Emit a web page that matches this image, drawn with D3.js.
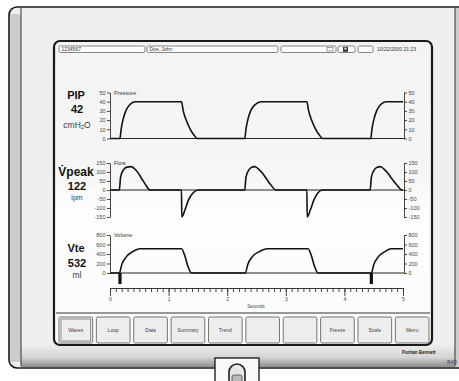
<!DOCTYPE html>
<meta charset="utf-8">
<script src="https://d3js.org/d3.v7.min.js"></script>

<style>
  body { margin: 0; background: #fff; }
  svg { display: block; font-family: "Liberation Sans", Arial, sans-serif; }
  .tick text { font-size: 5.5px; fill: #444; }
  .tick line, .domain { stroke: #333; stroke-width: 0.9px; }
  .trace { fill: none; stroke: #111; stroke-width: 1.6px; stroke-linejoin: round; }
  .base { stroke: #222; stroke-width: 1px; }
  .param { font-weight: bold; font-size: 11px; fill: #111; text-anchor: middle; }
  .unit { font-size: 8.5px; text-anchor: middle; }
</style>

<body>
  <div id="vent"></div>

  <script>
    // ---- data ----
    const headerText = ["1234567", "Doe, John", "", "", "", "10/22/2000 21:23"];
    const buttonLabels = ["Waves", "Loop", "Data", "Summary", "Trend", "", "", "Freeze", "Scale", "Menu"];

    const paramNames = ["PIP", "V\u0307peak", "Vte"];
    const paramValues = ["42", "122", "532"];
    const paramUnits = ["cmH\u2082O", "lpm", "ml"];
    const panelTitles = ["Pressure", "Flow", "Volume"];

    const pressureTicks = [0, 10, 20, 30, 40, 50];
    const flowTicks = [-150, -100, -50, 0, 50, 100, 150];
    const volumeTicks = [0, 200, 400, 600, 800];
    const timeTicks = [0, 1, 2, 3, 4, 5];

    // [seconds, cmH2O]
    const pressure = [
      [0, 0], [0.17, 0], [0.19, 10], [0.22, 20], [0.27, 30], [0.34, 37], [0.43, 40],
      [1.22, 40], [1.25, 30], [1.30, 20], [1.37, 10], [1.43, 4], [1.49, 0],
      [2.30, 0], [2.32, 10], [2.35, 20], [2.40, 30], [2.48, 37], [2.58, 40],
      [3.36, 40], [3.39, 30], [3.44, 20], [3.51, 10], [3.57, 4], [3.63, 0],
      [4.45, 0], [4.47, 10], [4.50, 20], [4.55, 30], [4.62, 37], [4.71, 40], [5, 40]
    ];
    // [seconds, lpm]
    const flow = [
      [0, 0], [0.16, 0], [0.18, 70], [0.23, 112], [0.29, 127], [0.36, 130], [0.42, 118],
      [0.48, 95], [0.54, 64], [0.61, 28], [0.68, 0],
      [1.22, 0], [1.225, -150], [1.28, -110], [1.34, -55], [1.42, -15], [1.51, 0],
      [2.30, 0], [2.32, 70], [2.37, 112], [2.42, 127], [2.47, 130], [2.53, 118],
      [2.60, 94], [2.67, 62], [2.75, 26], [2.83, 0],
      [3.36, 0], [3.365, -150], [3.42, -110], [3.48, -55], [3.55, -15], [3.63, 0],
      [4.44, 0], [4.46, 70], [4.51, 112], [4.56, 127], [4.61, 130], [4.67, 118],
      [4.74, 94], [4.81, 62], [4.90, 26], [4.98, 0], [5, 0]
    ];
    // [seconds, ml]
    const volume = [
      [0, 0], [0.16, 0], [0.20, 175], [0.28, 345], [0.39, 450], [0.51, 510],
      [1.22, 510], [1.28, 350], [1.33, 140], [1.39, 0],
      [2.31, 0], [2.35, 175], [2.43, 345], [2.55, 450], [2.68, 510],
      [3.38, 510], [3.44, 350], [3.49, 140], [3.55, 0],
      [4.46, 0], [4.50, 175], [4.58, 345], [4.69, 450], [4.80, 510], [5, 510]
    ];
    const breathMarks = [0.17, 4.46];

    // ---- layout ----
    const width = 459, height = 381;
    const svg = d3.select("#vent").append("svg")
      .attr("width", width)
      .attr("height", height);

    const defs = svg.append("defs");
    const grad = defs.append("linearGradient").attr("id", "chin")
      .attr("x1", 0).attr("y1", 0).attr("x2", 0).attr("y2", 1);
    grad.append("stop").attr("offset", "0%").attr("stop-color", "#ececec");
    grad.append("stop").attr("offset", "55%").attr("stop-color", "#d6d6d6");
    grad.append("stop").attr("offset", "100%").attr("stop-color", "#8e8e8e");

    const glass = defs.append("linearGradient").attr("id", "glass")
      .attr("x1", 0).attr("y1", 0).attr("x2", 0).attr("y2", 1);
    glass.append("stop").attr("offset", "0%").attr("stop-color", "#f3f3f3");
    glass.append("stop").attr("offset", "45%").attr("stop-color", "#f6f6f6");
    glass.append("stop").attr("offset", "55%").attr("stop-color", "#fdfdfd");
    glass.append("stop").attr("offset", "100%").attr("stop-color", "#fcfcfc");

    // device body
    svg.append("rect").attr("x", 9).attr("y", 7).attr("width", 470).attr("height", 361)
      .attr("rx", 8).attr("fill", "#efefef").attr("stroke", "#1a1a1a").attr("stroke-width", 1.6);
    svg.append("rect").attr("x", 10).attr("y", 14).attr("width", 11).attr("height", 348)
      .attr("fill", "#cccccc");
    svg.append("rect").attr("x", 455).attr("y", 8).attr("width", 6).attr("height", 359)
      .attr("fill", "#cccccc");
    svg.append("rect").attr("x", 21).attr("y", 345).attr("width", 434).attr("height", 22)
      .attr("fill", "url(#chin)");
    svg.append("line").attr("x1", 21).attr("x2", 21).attr("y1", 8).attr("y2", 366)
      .attr("stroke", "#333").attr("stroke-width", 1);
    svg.append("line").attr("x1", 455).attr("x2", 455).attr("y1", 8).attr("y2", 366)
      .attr("stroke", "#333").attr("stroke-width", 1);

    // knob under the screen
    const knob = svg.append("g");
    knob.append("rect").attr("x", 215).attr("y", 358).attr("width", 44).attr("height", 26)
      .attr("fill", "#fafafa").attr("stroke", "#222").attr("stroke-width", 1.4);
    knob.append("path").attr("d", "M229,384 L229,372 A8,8 0 0 1 245,372 L245,384")
      .attr("fill", "#e6e6e6").attr("stroke", "#222").attr("stroke-width", 1.6);
    knob.append("rect").attr("x", 232).attr("y", 375).attr("width", 10).attr("height", 8)
      .attr("rx", 2).attr("fill", "#bbb").attr("stroke", "#444").attr("stroke-width", 0.8);

    svg.append("text").attr("x", 402).attr("y", 354)
      .style("font-size", "4.5px").style("font-weight", "bold").attr("fill", "#222")
      .text("Puritan Bennett");
    svg.append("text").attr("x", 447).attr("y", 364)
      .style("font-size", "6px").attr("fill", "#444").text("840");

    // screen
    svg.append("rect").attr("x", 54).attr("y", 41).attr("width", 378).attr("height", 304)
      .attr("rx", 6).attr("fill", "url(#glass)").attr("stroke", "#1a1a1a").attr("stroke-width", 2.2);

    // header fields
    const headerEdges = [[59, 145], [147, 278], [281, 336], [338, 355], [358, 373], [374, 428]];
    const header = svg.append("g").selectAll("g")
      .data(headerText)
      .join("g");
    header.filter((d, i) => i < 5).append("rect")
      .attr("x", (d, i) => headerEdges[i][0])
      .attr("y", 46)
      .attr("width", (d, i) => headerEdges[i][1] - headerEdges[i][0])
      .attr("height", 6.5)
      .attr("rx", 1.5)
      .attr("fill", "#fcfcfc")
      .attr("stroke", "#555")
      .attr("stroke-width", 0.7);
    header.append("text")
      .attr("x", (d, i) => headerEdges[i][0] + (i === 5 ? 3 : 2.5))
      .attr("y", 51.4)
      .style("font-size", "5px")
      .attr("fill", "#333")
      .text(d => d);
    // printer + disk icons
    svg.append("rect").attr("x", 327).attr("y", 47.5).attr("width", 6).attr("height", 3.5)
      .attr("fill", "none").attr("stroke", "#666").attr("stroke-width", 0.6);
    svg.append("rect").attr("x", 343).attr("y", 46.8).attr("width", 5).attr("height", 5)
      .attr("fill", "#333");
    svg.append("rect").attr("x", 344.3).attr("y", 47.6).attr("width", 2.4).attr("height", 2)
      .attr("fill", "#ddd");

    // ---- scales ----
    const x = d3.scaleLinear().domain([0, 5]).range([110, 403]);
    const yP = d3.scaleLinear().domain([0, 50]).range([138.5, 92.5]);
    const yF = d3.scaleLinear().domain([-150, 150]).range([217, 163]);
    const yV = d3.scaleLinear().domain([0, 800]).range([273, 235]);

    const panels = [
      { y: yP, ticks: pressureTicks, data: pressure, title: panelTitles[0] },
      { y: yF, ticks: flowTicks, data: flow, title: panelTitles[1] },
      { y: yV, ticks: volumeTicks, data: volume, title: panelTitles[2] }
    ];

    const chart = svg.append("g");
    const plain = d => String(d);

    panels.forEach(p => {
      chart.append("g")
        .attr("transform", "translate(110,0)")
        .call(d3.axisLeft(p.y).tickValues(p.ticks).tickFormat(plain)
          .tickSize(3).tickSizeOuter(0).tickPadding(1.5));
      chart.append("g")
        .attr("transform", "translate(404,0)")
        .call(d3.axisRight(p.y).tickValues(p.ticks).tickFormat(plain)
          .tickSize(3).tickSizeOuter(0).tickPadding(1.5));

      chart.append("line").attr("class", "base")
        .attr("x1", x(0)).attr("x2", 404)
        .attr("y1", p.y(0)).attr("y2", p.y(0));

      chart.append("text")
        .attr("x", 114)
        .attr("y", p.y.range()[1] + 2)
        .style("font-size", "5.5px")
        .attr("fill", "#333")
        .text(p.title);

      const line = d3.line()
        .x(d => x(d[0]))
        .y(d => p.y(d[1]))
        .curve(d3.curveMonotoneX);
      chart.append("path").attr("class", "trace").attr("d", line(p.data));
    });

    // breath start markers
    chart.selectAll("rect.mark")
      .data(breathMarks)
      .join("rect")
      .attr("class", "mark")
      .attr("x", d => x(d) - 1.6)
      .attr("y", yV(0))
      .attr("width", 3.2)
      .attr("height", 11)
      .attr("fill", "#111");

    // time axis
    const minor = d3.range(0, 51).map(i => i / 10);
    chart.append("g")
      .attr("transform", "translate(0,288)")
      .call(d3.axisBottom(x).tickValues(minor).tickSize(4).tickFormat("").tickSizeOuter(0));
    chart.append("g")
      .attr("transform", "translate(0,288)")
      .call(d3.axisBottom(x).tickValues(timeTicks).tickFormat(plain)
        .tickSize(8).tickSizeOuter(0).tickPadding(1.5))
      .selectAll("text").style("font-size", "5px");
    chart.append("text")
      .attr("x", 256).attr("y", 307.5)
      .attr("text-anchor", "middle")
      .style("font-size", "4.5px")
      .attr("fill", "#444")
      .text("Seconds");

    // parameter readouts
    const readY = [[99, 112.5, 128], [176, 189.5, 199.5], [252, 266.5, 278]];
    const readout = svg.append("g").selectAll("g")
      .data(paramNames)
      .join("g");
    readout.append("text").attr("class", "param")
      .attr("x", 76).attr("y", (d, i) => readY[i][0])
      .style("font-size", (d, i) => i === 1 ? "12px" : "11px")
      .text(d => d);
    readout.append("text").attr("class", "param")
      .attr("x", 77).attr("y", (d, i) => readY[i][1])
      .text((d, i) => paramValues[i]);
    readout.append("text").attr("class", "unit")
      .attr("x", 77).attr("y", (d, i) => readY[i][2])
      .attr("fill", "#3a3a3a")
      .style("font-size", (d, i) => i === 1 ? "7px" : "8.5px")
      .text((d, i) => paramUnits[i]);

    // button bar
    svg.append("line").attr("x1", 56).attr("x2", 430).attr("y1", 313).attr("y2", 313)
      .attr("stroke", "#333").attr("stroke-width", 1.2);
    const bx = d3.scaleBand().domain(d3.range(buttonLabels.length)).range([59, 429]).paddingInner(0.1);
    const btn = svg.append("g").selectAll("g")
      .data(buttonLabels)
      .join("g")
      .attr("transform", (d, i) => `translate(${bx(i)},317)`);
    btn.append("rect")
      .attr("width", bx.bandwidth()).attr("height", 26).attr("rx", 1.5)
      .attr("fill", "#ededed").attr("stroke", "#666").attr("stroke-width", 0.9);
    btn.filter((d, i) => i === 0).append("rect")
      .attr("x", 2).attr("y", 2)
      .attr("width", bx.bandwidth() - 4).attr("height", 22)
      .attr("fill", "none").attr("stroke", "#777").attr("stroke-width", 0.8);
    btn.append("text")
      .attr("x", bx.bandwidth() / 2).attr("y", 15)
      .attr("text-anchor", "middle")
      .style("font-size", "5px")
      .attr("fill", "#444")
      .text(d => d);
  </script>
</body>
